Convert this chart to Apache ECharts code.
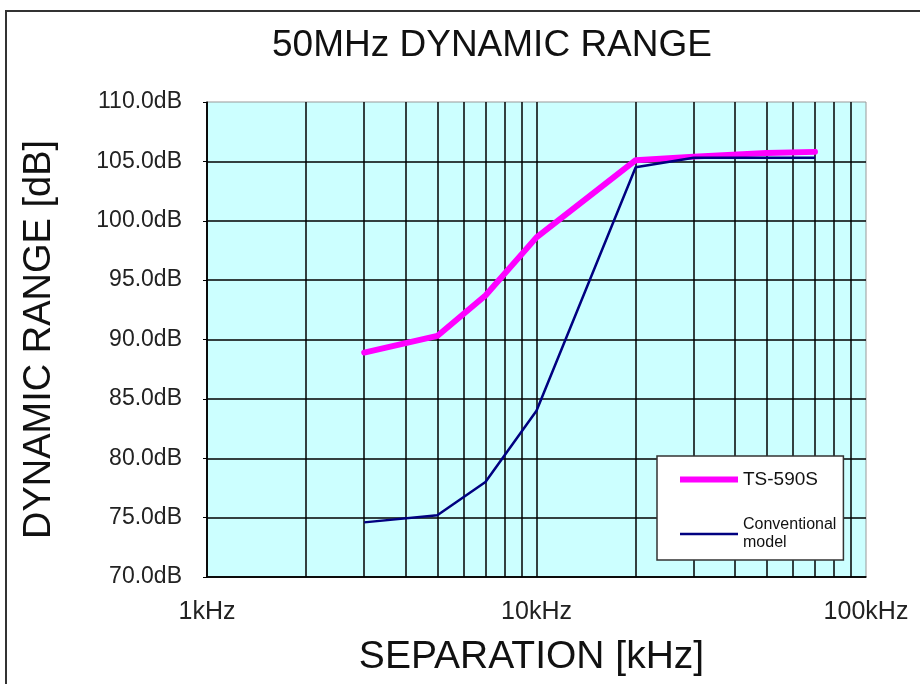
<!DOCTYPE html>
<html>
<head>
<meta charset="utf-8">
<script src="https://cdn.jsdelivr.net/npm/echarts@6/dist/echarts.min.js"></script>
<style>
html,body{margin:0;padding:0;background:#fff;}
#chart{width:920px;height:684px;}
</style>
</head>
<body>
<div id="chart"></div>
<script>
// ---- data (separation in kHz, dynamic range in dB) ----
var ts590sKHz = [3, 5, 7, 10, 20, 30, 50, 70];
var ts590sDB = [88.9, 90.3, 93.7, 98.6, 105.1, 105.4, 105.7, 105.8];
var conventionalKHz = [3, 5, 7, 10, 20, 30, 50, 70];
var conventionalDB = [74.6, 75.2, 78.0, 84.0, 104.5, 105.3, 105.3, 105.3];
// minor log grid positions (kHz)
var minorGridKHz = [2, 3, 4, 5, 6, 7, 8, 9, 20, 30, 40, 50, 60, 70, 80, 90];
var seriesNames = ['TS-590S', 'Conventional model'];

function pairs(xs, ys) { return xs.map(function (x, i) { return [x, ys[i]]; }); }

var FONT = "'Liberation Sans', Arial, sans-serif";
var chart = echarts.init(document.getElementById('chart'), null, { renderer: 'canvas' });

chart.setOption({
  backgroundColor: '#fff',
  animation: false,
  graphic: [{
    type: 'rect',
    shape: { x: 6, y: 11, width: 940, height: 700 },
    style: { fill: 'none', stroke: '#333', lineWidth: 2 },
    silent: true
  }],
  title: {
    text: '50MHz DYNAMIC RANGE',
    left: 487, top: 22, textAlign: 'center',
    textStyle: { fontFamily: FONT, fontSize: 37, fontWeight: 'normal', color: '#111' }
  },
  grid: {
    left: 207, top: 102, right: 54, bottom: 107,
    show: true, backgroundColor: '#CCFFFF', borderColor: '#999', borderWidth: 1
  },
  legend: {
    data: [
      { name: seriesNames[0], icon: 'path://M0 0H58V6H0Z', itemStyle: { color: '#FF00FF' } },
      { name: seriesNames[1], icon: 'path://M0 0H58V2.5H0Z', itemStyle: { color: '#000080' } }
    ],
    orient: 'vertical',
    left: 657, top: 456,
    backgroundColor: '#fff', borderColor: '#333', borderWidth: 1.5, borderRadius: 0,
    padding: [14, 7, 9, 23],
    itemGap: 28, itemWidth: 58, itemHeight: 6,
    symbolKeepAspect: true,
    selectedMode: false,
    formatter: function (n) {
      return n === 'TS-590S' ? '{a|TS-590S}' : '{b|Conventional}\n{b|model}';
    },
    textStyle: {
      fontFamily: FONT, color: '#111',
      rich: {
        a: { fontFamily: FONT, fontSize: 19, color: '#111' },
        b: { fontFamily: FONT, fontSize: 16, lineHeight: 18, color: '#111' }
      }
    }
  },
  xAxis: {
    type: 'log', logBase: 10, min: 1, max: 100,
    name: 'SEPARATION [kHz]', nameLocation: 'middle', nameGap: 61,
    nameTextStyle: { fontFamily: FONT, fontSize: 39, color: '#111', padding: [0, 10, 0, 0] },
    axisLine: { lineStyle: { color: '#000', width: 1.5 } },
    axisTick: { show: false },
    axisLabel: {
      margin: 23, fontFamily: FONT, fontSize: 25, color: '#222',
      formatter: function (v) { return v + 'kHz'; }
    },
    splitLine: { show: true, showMaxLine: false, lineStyle: { color: '#000', width: 1.5 } }
  },
  yAxis: {
    type: 'value', min: 70, max: 110, interval: 5,
    name: 'DYNAMIC RANGE [dB]', nameLocation: 'middle', nameGap: 148,
    nameTextStyle: { fontFamily: FONT, fontSize: 38, color: '#111' },
    axisLine: { show: true, lineStyle: { color: '#000', width: 1.5 } },
    axisTick: { show: true, length: 4, lineStyle: { color: '#000' } },
    axisLabel: {
      margin: 25, fontFamily: FONT, fontSize: 23, color: '#222',
      formatter: function (v) { return v.toFixed(1) + 'dB'; }
    },
    splitLine: { show: true, showMaxLine: false, lineStyle: { color: '#000', width: 1.5 } }
  },
  series: [
    {
      name: 'minor-grid', type: 'line', data: [], z: 1, silent: true,
      markLine: {
        silent: true, z: 1, symbol: ['none', 'none'], animation: false,
        label: { show: false },
        lineStyle: { color: '#000', width: 1.5, type: 'solid' },
        data: minorGridKHz.map(function (v) { return { xAxis: v }; })
      }
    },
    {
      name: seriesNames[0], type: 'line', z: 3,
      data: pairs(ts590sKHz, ts590sDB),
      symbol: 'none', color: '#FF00FF',
      lineStyle: { color: '#FF00FF', width: 6, cap: 'round', join: 'round' }
    },
    {
      name: seriesNames[1], type: 'line', z: 4,
      data: pairs(conventionalKHz, conventionalDB),
      symbol: 'none', color: '#000080',
      lineStyle: { color: '#000080', width: 2.5 }
    }
  ]
});
</script>
</body>
</html>
